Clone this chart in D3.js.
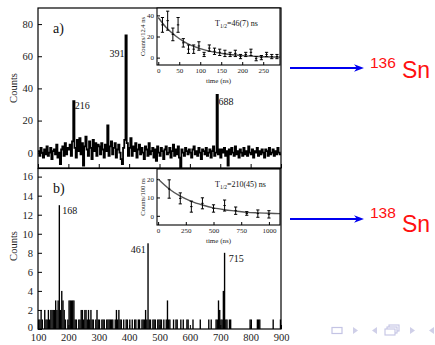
<!DOCTYPE html>
<html>
<head>
<meta charset="utf-8">
<script src="https://cdn.jsdelivr.net/npm/d3@7"></script>
<style>
  body { margin: 0; background: #fff; }
  svg { display: block; }
</style>
</head>
<body>
<div id="chart"></div>
<script>
// spectra: 4 keV bins starting at 100 keV
const binStart = 100;
const binKeV = 4;

// panel a) 136Sn, background subtracted counts
const countsA = [
  1,-2,3,0,-3,2,-1,4,-2,0,3,-4,1,2,-1,5,-3,0,-7,2,4,-2,6,-1,3,
  2,5,-2,7,32,3,-3,8,1,9,-1,6,-8,4,10,2,-2,7,3,-4,8,1,6,-2,5,
  4,-1,6,2,-3,5,1,17,-2,4,7,-1,3,6,-3,2,5,0,-4,-7,3,8,73,6,-2,
  3,9,-2,4,1,6,-3,2,5,-1,3,0,-4,4,2,-2,6,-1,1,3,-3,2,-5,4,0,
  -2,3,1,-4,2,4,-1,0,3,-3,1,5,-2,2,-1,4,-3,-9,2,0,-2,3,1,-1,2,
  0,-3,2,4,-1,1,-2,3,0,-4,2,1,-1,3,-2,0,2,-3,1,4,-2,0,36,-1,2,
  -3,2,0,3,-2,1,-8,2,-1,3,0,-2,4,-1,1,-3,2,0,-2,3,-1,1,-2,4,0,
  -1,2,-3,1,0,3,-2,1,-1,2,0,-3,2,1,-2,3,-1,0,2,-2,1,-1,3,0,-1
];

// panel b) 138Sn counts
const countsB = [
  1,1,2,1,0,2,1,1,2,1,2,2,2,2,3,2,3,13,2,4,3,2,1,0,1,
  3,3,3,3,3,1,1,0,1,1,2,2,1,2,2,1,2,1,2,1,1,0,1,2,1,
  1,0,1,1,1,0,1,1,1,1,1,1,0,1,2,1,2,1,1,0,1,0,1,1,0,
  1,0,1,0,1,1,0,1,1,0,1,1,1,2,1,9,1,1,0,1,1,1,0,1,1,
  1,1,0,1,0,1,3,1,1,0,0,1,0,1,1,0,0,1,0,1,0,0,1,1,0,
  0,0,1,0,0,0,0,0,1,0,0,0,0,0,0,1,0,1,0,0,0,1,1,3,2,
  1,1,4,8,1,1,0,1,1,0,0,0,0,0,0,0,0,0,0,0,0,0,0,0,1,
  1,0,0,0,0,1,1,1,0,0,0,0,0,0,0,0,0,0,1,0,0,0,0,0,1
];

const peaksA = [216, 391, 688];
const peakCountsA = [32, 73, 36];
const peaksB = [168, 461, 715];
const peakCountsB = [13, 9, 8];

const energyTicks = [100, 200, 300, 400, 500, 600, 700, 800, 900];
const countTicksA = [0, 20, 40, 60, 80];
const countTicksB = [0, 2, 4, 6, 8, 10, 12, 14, 16];

// inset a) decay, 12.4 ns bins
const timeA = [10, 22.4, 34.8, 47.2, 59.6, 72, 84.4, 96.8, 109.2, 121.6, 134, 146.4,
  158.8, 171.2, 183.6, 196, 208.4, 220.8, 233.2, 245.6, 258, 270.4, 282.8];
const decayA = [31, 35, 22, 31, 14, 8, 8, 11, 3, 9, 6, 5, 4, 3, 4, 1, 3, 5, -1, 0, 3, 1, 1];
const errA = [7, 9, 6, 7, 4, 4, 4, 4, 2, 3, 3, 3, 3, 2, 3, 2, 2, 3, 2, 2, 2, 2, 2];
const fitTimeA = [0, 20, 40, 60, 80, 100, 130, 160, 200, 240, 290];
const fitA = [38, 28, 21, 15.4, 11.3, 8.5, 5.4, 3.4, 1.9, 1.0, 0.5];
const insetTicksXA = [0, 50, 100, 150, 200, 250];
const insetTicksYA = [0, 20, 40];

// inset b) decay, 100 ns bins
const timeB = [100, 200, 300, 400, 500, 600, 700, 800, 900, 1000];
const decayB = [14.6, 9.5, 5, 6.8, 4, 5.6, 2.8, 1.3, 1.2, 0.8];
const errB = [5, 3, 3, 3, 2, 3, 2, 1, 2, 2];
const fitTimeB = [0, 100, 200, 300, 400, 500, 600, 700, 800, 900, 1000, 1100];
const fitB = [20, 14.6, 10.7, 7.9, 5.9, 4.3, 3.3, 2.6, 1.9, 1.6, 1.4, 1.2];
const insetTicksXB = [0, 250, 500, 750, 1000];
const insetTicksYB = [0, 10, 20];

const width = 435, height = 345;
const serif = "'Liberation Serif', 'DejaVu Serif', serif";

const svg = d3.select("#chart").append("svg")
    .attr("width", width)
    .attr("height", height);

const x = d3.scaleLinear().domain([100, 900]).range([38, 281]);
const yA = d3.scaleLinear().domain([-9.5, 90]).range([168, 8]);
const yB = d3.scaleLinear().domain([0, 16.8]).range([329, 169]);

function styleAxis(g, size) {
    g.select(".domain").remove();
    g.attr("font-family", serif).attr("font-size", size);
    g.selectAll("line").attr("stroke", "#000");
    g.selectAll("text").attr("fill", "#222");
}

// ---- panel a: step line spectrum
const binsA = countsA.map((c, i) => ({ e: binStart + i * binKeV, c }));
binsA.push({ e: binStart + countsA.length * binKeV, c: countsA[countsA.length - 1] });

svg.append("path")
    .datum(binsA)
    .attr("fill", "none")
    .attr("stroke", "#000")
    .attr("stroke-width", 1.8)
    .attr("d", d3.line().x(d => x(d.e)).y(d => yA(d.c)).curve(d3.curveStepAfter));

// ---- panel b: filled histogram
svg.append("g").selectAll("rect")
    .data(countsB)
    .join("rect")
    .attr("x", (d, i) => x(binStart + i * binKeV))
    .attr("width", x(binStart + binKeV) - x(binStart) + 0.15)
    .attr("y", d => yB(d))
    .attr("height", d => yB(0) - yB(d))
    .attr("fill", "#000");

// axes panel a
svg.append("g")
    .attr("transform", "translate(38,0)")
    .call(d3.axisLeft(yA).tickValues(countTicksA).tickSizeInner(-4).tickSizeOuter(0).tickPadding(5))
    .call(g => styleAxis(g, 10.5));
svg.append("g")
    .attr("transform", "translate(0,168)")
    .call(d3.axisBottom(x).tickValues(energyTicks).tickSizeInner(-4).tickSizeOuter(0).tickFormat(""))
    .call(g => styleAxis(g, 10.5));

// axes panel b
svg.append("g")
    .attr("transform", "translate(38,0)")
    .call(d3.axisLeft(yB).tickValues(countTicksB).tickSizeInner(-4).tickSizeOuter(0).tickPadding(5))
    .call(g => styleAxis(g, 10.5))
    .call(g => g.selectAll("text").filter(d => d === 0).attr("dy", "0.1em"));
svg.append("g")
    .attr("transform", "translate(0,329)")
    .call(d3.axisBottom(x).tickValues(energyTicks).tickSizeInner(-4).tickSizeOuter(0).tickPadding(5))
    .call(g => styleAxis(g, 10.5));

// frames
svg.append("rect").attr("x", 38).attr("y", 8).attr("width", 243).attr("height", 160)
    .attr("fill", "none").attr("stroke", "#000").attr("stroke-width", 1.2);
svg.append("rect").attr("x", 38).attr("y", 168.5).attr("width", 243).attr("height", 160.5)
    .attr("fill", "none").attr("stroke", "#000").attr("stroke-width", 1.2);

// y labels
[[88, "Counts"], [246, "Counts"]].forEach(([cy, t]) => {
    svg.append("text")
        .attr("transform", `translate(17,${cy}) rotate(-90)`)
        .attr("text-anchor", "middle")
        .attr("font-family", serif)
        .attr("font-size", 10.5)
        .attr("fill", "#222")
        .text(t);
});

// panel letters
svg.append("text").attr("x", 53).attr("y", 33).attr("font-family", serif)
    .attr("font-size", 14).attr("fill", "#111").text("a)");
svg.append("text").attr("x", 53).attr("y", 193).attr("font-family", serif)
    .attr("font-size", 14).attr("fill", "#111").text("b)");

// peak labels
function peakLabel(e, yv, dx, dy, anchor) {
    svg.append("text")
        .attr("x", x(e) + dx)
        .attr("y", yv + dy)
        .attr("text-anchor", anchor)
        .attr("font-family", serif)
        .attr("font-size", 10)
        .attr("fill", "#111")
        .text(e);
}
peakLabel(peaksA[0], yA(peakCountsA[0]), 1.5, 8, "start");
peakLabel(peaksA[1], yA(peakCountsA[1]), -2, 22, "end");
peakLabel(peaksA[2], yA(peakCountsA[2]), 2, 10, "start");
peakLabel(peaksB[0], yB(peakCountsB[0]), 3.5, 9, "start");
peakLabel(peaksB[1], yB(peakCountsB[1]), -2, 10, "end");
peakLabel(peaksB[2], yB(peakCountsB[2]), 4, 9, "start");

// ---- insets
function inset(opt) {
    const { left, right, top, bottom, xd, yd, times, vals, errs, fitT, fitV, xt, yt, ylab, half } = opt;
    const ix = d3.scaleLinear().domain(xd).range([left, right]);
    const iy = d3.scaleLinear().domain(yd).range([bottom, top]);
    const g = svg.append("g");
    g.append("rect").attr("x", left).attr("y", top).attr("width", right - left).attr("height", bottom - top)
        .attr("fill", "#fff");

    g.append("g").attr("transform", `translate(${left},0)`)
        .call(d3.axisLeft(iy).tickValues(yt).tickSizeInner(-3).tickSizeOuter(0).tickPadding(3))
        .call(a => styleAxis(a, 7));
    g.append("g").attr("transform", `translate(0,${bottom})`)
        .call(d3.axisBottom(ix).tickValues(xt).tickFormat(d3.format("d"))
            .tickSizeInner(-3).tickSizeOuter(0).tickPadding(3))
        .call(a => styleAxis(a, 7));

    g.append("path")
        .datum(fitT.map((t, i) => [t, fitV[i]]))
        .attr("fill", "none")
        .attr("stroke", "#555")
        .attr("stroke-width", 1.4)
        .attr("d", d3.line().x(d => ix(d[0])).y(d => iy(d[1])).curve(d3.curveMonotoneX));

    const pts = times.map((t, i) => ({ t, v: vals[i], e: errs[i] }));
    const eb = g.append("g").attr("stroke", "#000").attr("stroke-width", 1);
    eb.selectAll(".bar").data(pts).join("line")
        .attr("x1", d => ix(d.t)).attr("x2", d => ix(d.t))
        .attr("y1", d => iy(d.v - d.e)).attr("y2", d => iy(d.v + d.e));
    eb.selectAll(".capl").data(pts).join("line")
        .attr("x1", d => ix(d.t) - 1.6).attr("x2", d => ix(d.t) + 1.6)
        .attr("y1", d => iy(d.v - d.e)).attr("y2", d => iy(d.v - d.e));
    eb.selectAll(".caph").data(pts).join("line")
        .attr("x1", d => ix(d.t) - 1.6).attr("x2", d => ix(d.t) + 1.6)
        .attr("y1", d => iy(d.v + d.e)).attr("y2", d => iy(d.v + d.e));
    eb.selectAll(".mid").data(pts).join("line")
        .attr("x1", d => ix(d.t) - 1.2).attr("x2", d => ix(d.t) + 1.2)
        .attr("y1", d => iy(d.v)).attr("y2", d => iy(d.v));

    g.append("rect").attr("x", left).attr("y", top).attr("width", right - left).attr("height", bottom - top)
        .attr("fill", "none").attr("stroke", "#000").attr("stroke-width", 1.1);

    g.append("text")
        .attr("transform", `translate(145,${(top + bottom) / 2}) rotate(-90)`)
        .attr("text-anchor", "middle")
        .attr("font-family", serif).attr("font-size", 6.5).attr("fill", "#222")
        .text(ylab);
    g.append("text")
        .attr("x", (left + right) / 2 + 0).attr("y", bottom + 18)
        .attr("text-anchor", "middle")
        .attr("font-family", serif).attr("font-size", 7).attr("fill", "#222")
        .text("time (ns)");

    const tt = g.append("text")
        .attr("x", 215).attr("y", top + 18)
        .attr("font-family", serif).attr("font-size", 8).attr("fill", "#111");
    tt.append("tspan").text("T");
    tt.append("tspan").attr("font-size", 5.5).attr("dy", 2).text("1/2");
    tt.append("tspan").attr("dy", -2).text("=" + half + " ns");
}

inset({
    left: 157, right: 280, top: 8, bottom: 65,
    xd: [-3, 290], yd: [-7, 47],
    times: timeA, vals: decayA, errs: errA, fitT: fitTimeA, fitV: fitA,
    xt: insetTicksXA, yt: insetTicksYA, ylab: "Counts/12.4 ns", half: "46(7)"
});
inset({
    left: 157, right: 280, top: 169, bottom: 225,
    xd: [-10, 1100], yd: [-5, 25.5],
    times: timeB, vals: decayB, errs: errB, fitT: fitTimeB, fitV: fitB,
    xt: insetTicksXB, yt: insetTicksYB, ylab: "Counts/100 ns", half: "210(45)"
});

// ---- arrows and isotope labels
const blue = "#0000f0", red = "#ff1010";
[[68, "136", 68, 78], [219, "138", 218, 232]].forEach(([ay, mass, my, sy]) => {
    svg.append("line").attr("x1", 290).attr("x2", 358).attr("y1", ay).attr("y2", ay)
        .attr("stroke", blue).attr("stroke-width", 1.8);
    svg.append("path")
        .attr("d", `M364,${ay} L354,${ay - 3.8} L357,${ay} L354,${ay + 3.8} Z`)
        .attr("fill", blue);
    svg.append("text").attr("x", 370).attr("y", my)
        .attr("font-family", "'Liberation Sans', Arial, sans-serif")
        .attr("font-size", 15.5).attr("fill", red).text(mass);
    svg.append("text").attr("x", 402).attr("y", sy)
        .attr("font-family", "'Liberation Sans', Arial, sans-serif")
        .attr("font-size", 23).attr("fill", red).text("Sn");
});

// ---- beamer navigation symbols
const nav = svg.append("g").attr("fill", "#cfcfe8").attr("stroke", "none");
nav.append("rect").attr("x", 332).attr("y", 327.5).attr("width", 10).attr("height", 6)
    .attr("fill", "none").attr("stroke", "#c4c4e4").attr("stroke-width", 1.2);
nav.append("path").attr("d", "M353,327 L358,330.5 L353,334 Z");
nav.append("path").attr("d", "M377,327 L372,330.5 L377,334 Z");
nav.append("rect").attr("x", 389).attr("y", 325).attr("width", 10).attr("height", 6)
    .attr("fill", "#fff").attr("stroke", "#c4c4e4").attr("stroke-width", 1.1);
nav.append("rect").attr("x", 387).attr("y", 327).attr("width", 10).attr("height", 6)
    .attr("fill", "#fff").attr("stroke", "#c4c4e4").attr("stroke-width", 1.1);
nav.append("rect").attr("x", 385).attr("y", 329).attr("width", 10).attr("height", 6)
    .attr("fill", "#fff").attr("stroke", "#c4c4e4").attr("stroke-width", 1.1);
nav.append("path").attr("d", "M410,327 L415,330.5 L410,334 Z");
nav.append("path").attr("d", "M434,327 L429,330.5 L434,334 Z");
</script>
</body>
</html>
